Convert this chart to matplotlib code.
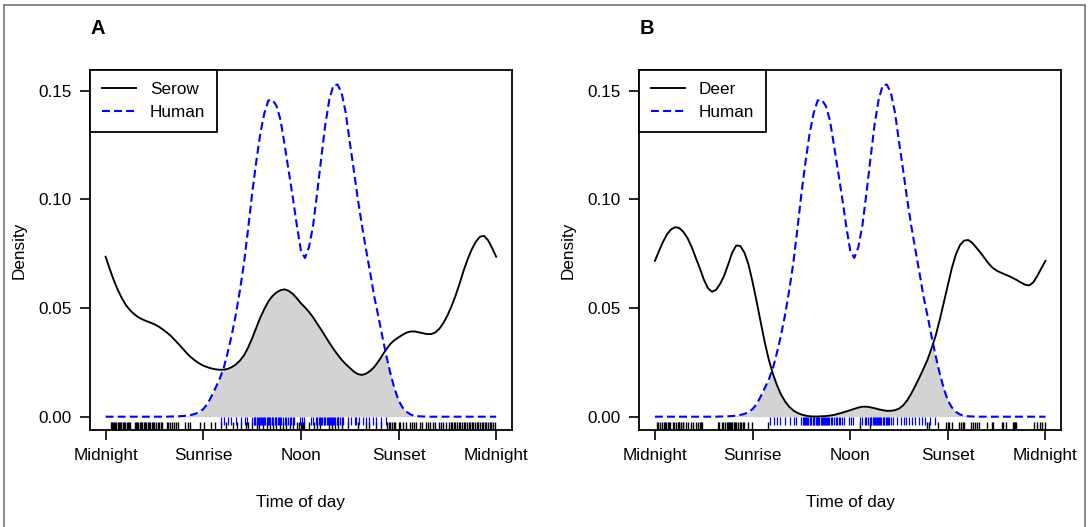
import numpy as np
import matplotlib
matplotlib.use("Agg")
import matplotlib.pyplot as plt
from matplotlib.lines import Line2D

plt.rcParams['font.family'] = ['Liberation Sans', 'DejaVu Sans']

# ---------------- data ----------------
hours = np.linspace(0, 24, 97)   # sample times (every 15 min)

human = [
    0, 0, 0, 0, 0, 0, 0, 0, 0, 0, 0, 0, 0, 0, 0, 0,
    0.0001, 0.0001, 0.0002, 0.0003, 0.0005, 0.0008, 0.0013, 0.0021,
    0.0035, 0.0058, 0.0093, 0.0132, 0.0172, 0.0222, 0.0295, 0.0375,
    0.0470, 0.0580, 0.0705, 0.0860, 0.1025, 0.1170, 0.1300, 0.1395,
    0.1455, 0.1458, 0.1430, 0.1365, 0.1250, 0.1130, 0.1010, 0.0880,
    0.0765, 0.0730, 0.0780, 0.0880, 0.1030, 0.1190, 0.1345, 0.1460,
    0.1525, 0.1528, 0.1490, 0.1400, 0.1265, 0.1135, 0.1000, 0.0880,
    0.0770, 0.0665, 0.0555, 0.0465, 0.0370, 0.0280, 0.0200, 0.0130,
    0.0075, 0.0042, 0.0022, 0.0010, 0.0004, 0.0002, 0.0001,
    0, 0, 0, 0, 0, 0, 0, 0, 0, 0, 0, 0, 0, 0, 0, 0, 0, 0,
]

serow = [
    0.0736, 0.0680, 0.0628, 0.0583, 0.0545, 0.0513, 0.0490, 0.0472,
    0.0458, 0.0448, 0.0440, 0.0433, 0.0425, 0.0415, 0.0402, 0.0388,
    0.0372, 0.0353, 0.0333, 0.0312, 0.0291, 0.0273, 0.0258, 0.0245,
    0.0235, 0.0228, 0.0222, 0.0218, 0.0216, 0.0216, 0.0220, 0.0228,
    0.0240, 0.0258, 0.0282, 0.0317, 0.0360, 0.0408, 0.0455, 0.0495,
    0.0530, 0.0555, 0.0572, 0.0582, 0.0586, 0.0579, 0.0565, 0.0545,
    0.0522, 0.0503, 0.0482, 0.0457, 0.0428, 0.0400, 0.0370, 0.0340,
    0.0312, 0.0286, 0.0262, 0.0242, 0.0225, 0.0208, 0.0196, 0.0192,
    0.0198, 0.0210, 0.0228, 0.0253, 0.0282, 0.0310, 0.0335, 0.0352,
    0.0365, 0.0377, 0.0387, 0.0392, 0.0392, 0.0388, 0.0384, 0.0380,
    0.0380, 0.0387, 0.0404, 0.0430, 0.0465, 0.0507, 0.0556, 0.0612,
    0.0672, 0.0725, 0.0770, 0.0805, 0.0828, 0.0832, 0.0812, 0.0776,
    0.0736,
]

deer = [
    0.0717, 0.0762, 0.0805, 0.0840, 0.0862, 0.0872, 0.0868, 0.0850,
    0.0822, 0.0782, 0.0733, 0.0685, 0.0632, 0.0592, 0.0575, 0.0583,
    0.0610, 0.0648, 0.0700, 0.0755, 0.0788, 0.0785, 0.0755, 0.0700,
    0.0620, 0.0530, 0.0435, 0.0342, 0.0262, 0.0197, 0.0145, 0.0102,
    0.0070, 0.0046, 0.0029, 0.0018, 0.0010, 0.0005, 0.0002, 0.0001,
    0.0001, 0.0002, 0.0003, 0.0005, 0.0008, 0.0013, 0.0018, 0.0024,
    0.0030, 0.0036, 0.0042, 0.0046, 0.0046, 0.0043, 0.0039, 0.0034,
    0.0030, 0.0027, 0.0027, 0.0030, 0.0037, 0.0052, 0.0075, 0.0106,
    0.0142, 0.0180, 0.0220, 0.0262, 0.0315, 0.0372, 0.0445, 0.0525,
    0.0605, 0.0685, 0.0748, 0.0790, 0.0810, 0.0813, 0.0800, 0.0778,
    0.0755, 0.0730, 0.0705, 0.0685, 0.0672, 0.0663, 0.0655, 0.0647,
    0.0638, 0.0628, 0.0617, 0.0607, 0.0604, 0.0618, 0.0648, 0.0683,
    0.0717,
]

# rug: observation times (hours)
serow_obs = [
    0.30, 0.38, 0.45, 0.52, 0.60, 0.66, 0.74, 0.80, 0.90, 0.97, 1.05, 1.12,
    1.20, 1.30, 1.36, 1.45, 1.52, 1.80, 1.88, 1.95, 2.02, 2.10, 2.20, 2.26,
    2.35, 2.42, 2.50, 2.60, 2.68, 2.75, 2.85, 2.92, 3.00, 3.10, 3.20, 3.30,
    3.38, 3.45, 3.78, 3.85, 3.95, 4.10, 4.20, 4.30, 4.45, 4.85, 5.05, 5.20,
    5.80, 6.05, 6.50, 6.70, 7.10, 7.40, 7.80, 8.10, 8.30, 8.60, 8.75, 9.00,
    9.30, 9.45, 9.70, 9.90, 10.10, 10.30, 10.50, 10.70, 10.90, 11.10, 11.30,
    11.50, 11.75, 11.90, 12.00, 12.05, 12.10, 12.20, 12.50, 12.80, 13.00,
    13.20, 13.70, 13.90, 14.10, 14.30, 14.55, 14.90, 15.50, 16.00, 16.20,
    16.60, 16.90, 17.30, 17.40, 17.50, 17.60, 17.70, 17.80, 18.00, 18.10,
    18.30, 18.45, 18.70, 18.80, 18.95, 19.10, 19.30, 19.45, 19.70, 19.80,
    19.95, 20.10, 20.25, 20.50, 20.60, 20.75, 20.90, 21.10, 21.20, 21.30,
    21.40, 21.50, 21.60, 21.70, 21.80, 21.90, 22.00, 22.10, 22.20, 22.30,
    22.40, 22.50, 22.60, 22.70, 22.80, 22.90, 23.00, 23.10, 23.20, 23.30,
    23.40, 23.50, 23.60, 23.70, 23.80, 23.90,
]

deer_obs = [
    0.10, 0.20, 0.30, 0.45, 0.55, 0.60, 0.70, 0.80, 0.85, 0.95, 1.10, 1.20,
    1.30, 1.40, 1.45, 1.50, 1.60, 1.70, 1.75, 1.90, 2.05, 2.20, 2.35, 2.50,
    2.65, 2.80, 2.85, 2.90, 3.85, 3.95, 4.10, 4.20, 4.30, 4.40, 4.50, 4.55,
    4.60, 4.70, 4.75, 4.85, 4.90, 5.00, 5.10, 5.20, 5.30, 5.40, 5.50, 5.70,
    5.95, 6.95, 12.60, 13.20, 16.70, 16.85, 17.40, 17.90, 18.00, 18.10,
    18.25, 18.70, 18.80, 18.95, 19.00, 19.40, 19.55, 19.65, 19.80, 19.90,
    20.40, 20.70, 20.80, 21.30, 21.40, 21.60, 22.00, 22.05, 22.10, 22.15,
    22.20, 23.30, 23.50, 23.65, 23.80, 23.95,
]

human_obs = [
    7.10, 7.30, 7.50, 7.70, 8.00, 8.30, 8.55, 8.70, 9.00, 9.10, 9.15, 9.20,
    9.30, 9.35, 9.40, 9.50, 9.55, 9.60, 9.70, 9.75, 9.80, 9.90, 9.95, 10.00,
    10.05, 10.10, 10.20, 10.25, 10.30, 10.40, 10.45, 10.50, 10.60, 10.65,
    10.70, 10.80, 10.90, 11.00, 11.10, 11.20, 11.30, 11.40, 11.50, 11.60,
    11.95, 12.05, 12.20, 12.60, 12.75, 12.90, 13.00, 13.10, 13.20, 13.25,
    13.30, 13.40, 13.45, 13.50, 13.60, 13.65, 13.70, 13.80, 13.85, 13.90,
    14.00, 14.05, 14.10, 14.20, 14.25, 14.30, 14.40, 14.50, 14.60, 14.90,
    15.10, 15.30, 15.40, 15.60, 15.80, 16.00, 16.20, 16.40, 16.60, 16.90,
    17.20,
]

tick_pos = [0, 6, 12, 18, 24]
tick_labels = ["Midnight", "Sunrise", "Noon", "Sunset", "Midnight"]
ytick_pos = [0.0, 0.05, 0.10, 0.15]
ytick_labels = ["0.00", "0.05", "0.10", "0.15"]

panels = [
    ("A", "Serow", serow, serow_obs),
    ("B", "Deer", deer, deer_obs),
]

# ---------------- figure ----------------
W, H = 1089, 527
fig = plt.figure(figsize=(W / 100, H / 100), dpi=100)

FS = 12.3
ax_lefts = [90.0, 639.3]
ax_w = 421.8
ax_top, ax_bot = 70.0, 430.0
DASH = (0, (3.8, 2.0))
LW_AN = 1.35
LW_HU = 1.5

for (tag, name, dens, obs), left in zip(panels, ax_lefts):
    ax = fig.add_axes([left / W, 1 - ax_bot / H, ax_w / W, (ax_bot - ax_top) / H])
    hum = np.array(human)
    an = np.array(dens)
    ax.fill_between(hours, 0, np.minimum(an, hum), color="#D3D3D3", lw=0, zorder=1)
    ax.vlines(obs, -0.0065, -0.0026, colors="black", lw=1.0, zorder=2)
    ax.vlines(human_obs, -0.0038, 0.0, colors="#0000FF", lw=0.9, zorder=3)
    ax.plot(hours, an, color="black", lw=LW_AN, zorder=4)
    ax.plot(hours, hum, color="#0000FF", lw=LW_HU, linestyle=DASH, zorder=5)

    ax.set_xlim(-0.96, 24.96)
    ax.set_ylim(-0.00612, 0.1595)
    ax.set_xticks(tick_pos)
    ax.set_xticklabels(tick_labels, fontsize=FS)
    ax.set_yticks(ytick_pos)
    ax.set_yticklabels(ytick_labels, fontsize=FS)
    ax.tick_params(axis="both", direction="out", length=7.2, width=1.2, color="black")
    ax.tick_params(axis="x", pad=6)
    ax.tick_params(axis="y", pad=6)
    for s in ax.spines.values():
        s.set_linewidth(1.3)
        s.set_color("black")

    handles = [
        Line2D([], [], color="black", lw=LW_AN),
        Line2D([], [], color="#0000FF", lw=LW_HU, linestyle=DASH),
    ]
    leg = ax.legend(handles, [name, "Human"], loc="upper left", fontsize=FS,
                    frameon=True, fancybox=False, borderaxespad=0,
                    handlelength=2.0, handletextpad=0.8, borderpad=0.7,
                    labelspacing=0.45)
    leg.get_frame().set_edgecolor("black")
    leg.get_frame().set_linewidth(1.3)
    leg.get_frame().set_facecolor("white")
    leg.get_frame().set_alpha(1)

    cx = left + ax_w / 2
    fig.text(cx / W, 1 - 503 / H, "Time of day", ha="center", va="center", fontsize=FS)
    fig.text((left - 71) / W, 1 - 250 / H, "Density", ha="center", va="center",
             rotation=90, fontsize=FS)
    fig.text((left + 7.5) / W, 1 - 29 / H, tag, ha="center", va="center",
             fontsize=14.5, fontweight="bold")

# outer grey border
border_kw = dict(color="#808080", lw=1.3, transform=fig.transFigure)
fig.add_artist(Line2D([3.5 / W, 3.5 / W], [0, 1 - 5 / H], **border_kw))
fig.add_artist(Line2D([3.5 / W, 1085 / W], [1 - 5 / H, 1 - 5 / H], **border_kw))
fig.add_artist(Line2D([1085 / W, 1085 / W], [0, 1 - 5 / H], **border_kw))

fig.savefig("out.png", dpi=100)
